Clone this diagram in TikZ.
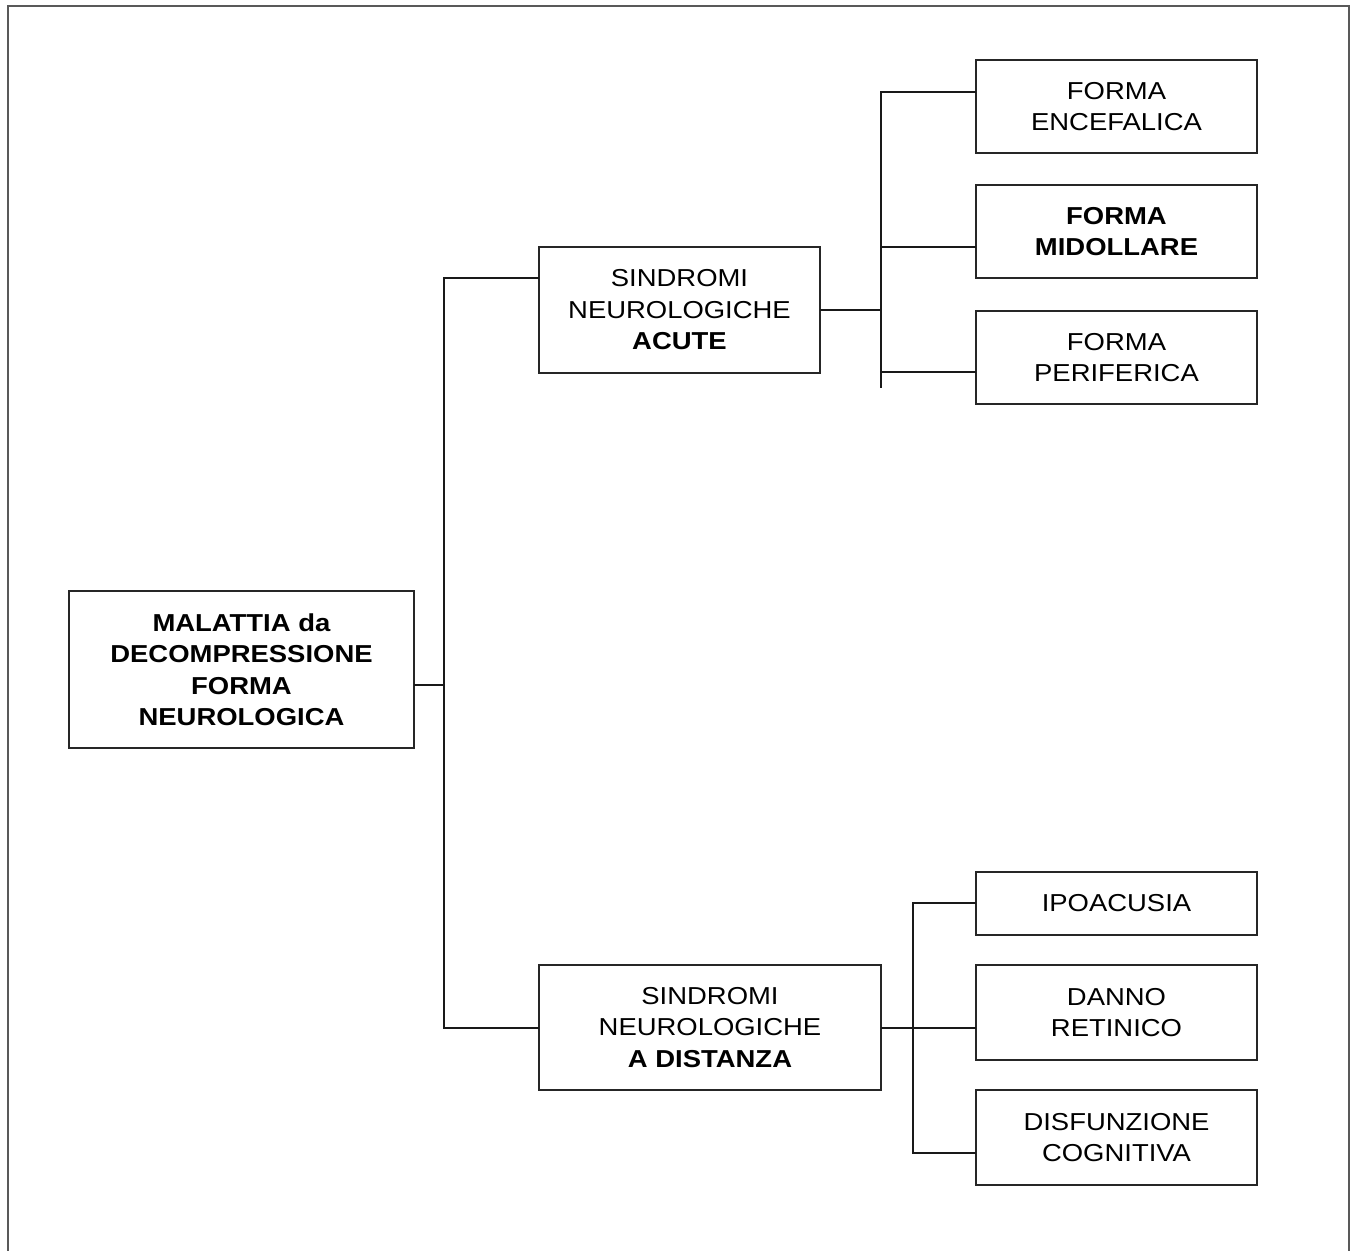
\documentclass[tikz,border=0pt]{standalone}
\usepackage{fontspec}
\setmainfont{Liberation Sans}[FakeStretch=1.12]
\begin{document}
\begin{tikzpicture}[x=1pt,y=-1pt,
  box/.style={draw=black!85, line width=2.3pt, inner sep=0pt, align=center,
    font=\fontsize{24.5}{31.5}\selectfont},
  conn/.style={draw=black!90, line width=2.1pt, line cap=rect}]
\useasboundingbox (0,0) rectangle (1353,1251);
% outer frame
\draw[draw=black!65, line width=2.8pt] (8,1290) -- (8,6) -- (1349,6) -- (1349,1290);
% boxes
\node[box, minimum width=345pt, minimum height=157pt] (main) at (241.5,669.5)
  {\textbf{MALATTIA da}\\\textbf{DECOMPRESSIONE}\\\textbf{FORMA}\\\textbf{NEUROLOGICA}};
\node[box, minimum width=281pt, minimum height=126pt] (acute) at (679.5,310)
  {SINDROMI\\NEUROLOGICHE\\\textbf{ACUTE}};
\node[box, minimum width=342pt, minimum height=125pt] (dist) at (710,1027.5)
  {SINDROMI\\NEUROLOGICHE\\\textbf{A DISTANZA}};
\node[box, minimum width=281pt, minimum height=93pt] (f1) at (1116.5,106.5)
  {FORMA\\ENCEFALICA};
\node[box, minimum width=281pt, minimum height=93pt] (f2) at (1116.5,231.5)
  {\textbf{FORMA}\\\textbf{MIDOLLARE}};
\node[box, minimum width=281pt, minimum height=93pt] (f3) at (1116.5,357.5)
  {FORMA\\PERIFERICA};
\node[box, minimum width=281pt, minimum height=63pt] (d1) at (1116.5,903.5)
  {IPOACUSIA};
\node[box, minimum width=281pt, minimum height=95pt] (d2) at (1116.5,1012.5)
  {DANNO\\RETINICO};
\node[box, minimum width=281pt, minimum height=95pt] (d3) at (1116.5,1137.5)
  {DISFUNZIONE\\COGNITIVA};
% trunk
\coordinate (t0) at (444,685);
\coordinate (ttop) at (444,278);
\coordinate (tbot) at (444,1028);
\draw[conn] (main.east |- t0) -- (t0);
\draw[conn] (acute.west |- ttop) -- (ttop) -- (tbot) -- (dist.west |- tbot);
% acute branches
\coordinate (a0) at (881,310);
\coordinate (a1) at (881,92);
\coordinate (a2) at (881,247);
\coordinate (a3) at (881,372);
\coordinate (aend) at (881,387);
\draw[conn] (acute.east) -- (a0);
\draw[conn] (f1.west |- a1) -- (a1) -- (aend);
\draw[conn] (a2) -- (f2.west |- a2);
\draw[conn] (a3) -- (f3.west |- a3);
% distanza branches
\coordinate (b0) at (913,1028);
\coordinate (b1) at (913,903);
\coordinate (b3) at (913,1153);
\draw[conn] (dist.east |- b0) -- (d2.west |- b0);
\draw[conn] (d1.west |- b1) -- (b1) -- (b3) -- (d3.west |- b3);
\end{tikzpicture}
\end{document}
